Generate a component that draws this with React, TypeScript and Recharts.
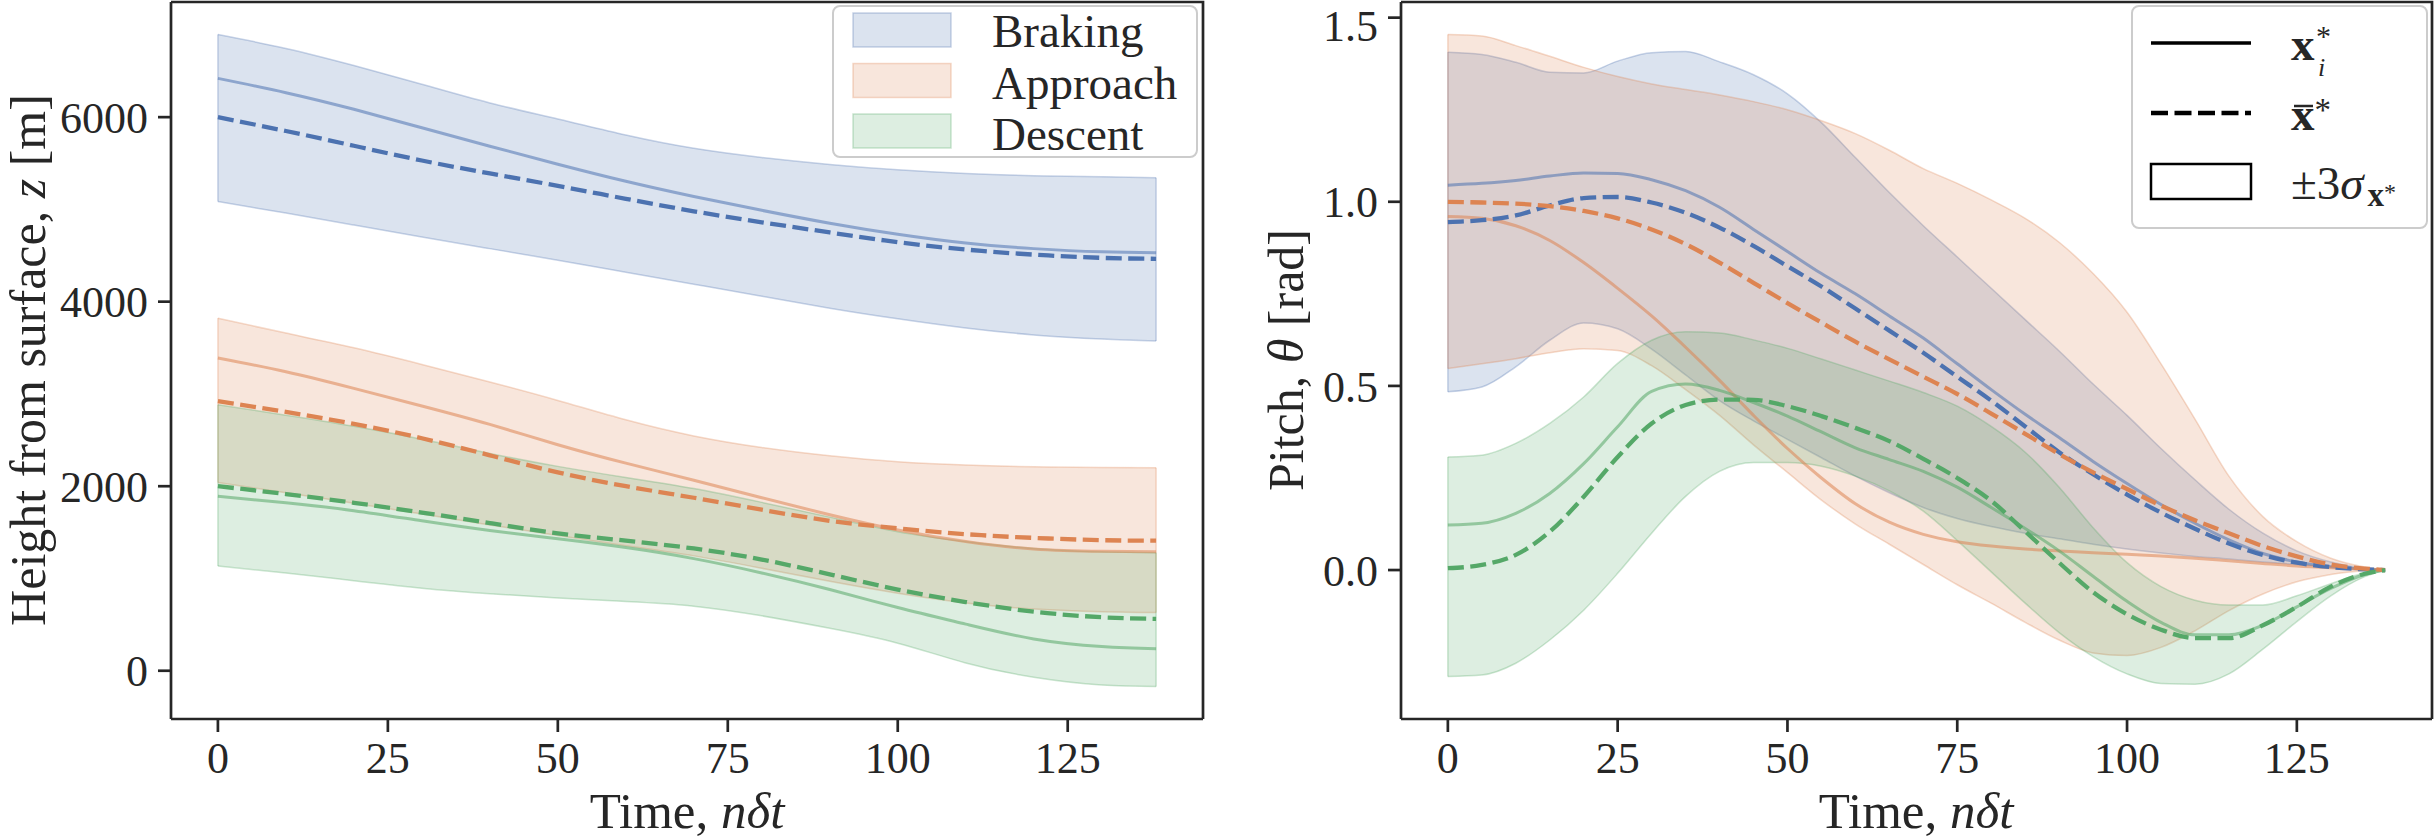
import React from 'react';
import { ComposedChart, Area, Line, XAxis, YAxis, ReferenceLine } from 'recharts';

const FONT = '"Liberation Serif", "Times New Roman", serif';
const INK = '#262626';
const BLUE = '#4c72b0';
const ORANGE = '#dd8452';
const GREEN = '#55a868';

const timeTicks = [0, 25, 50, 75, 100, 125];
const heightTicks = [0, 2000, 4000, 6000];
const pitchTicks = [0, 0.5, 1.0, 1.5];

// left panel: height from surface, every 10 steps
const heightSteps = [0, 10, 20, 30, 40, 50, 60, 70, 80, 90, 100, 110, 120, 130, 138];
const brakingHeightUpper = [6895, 6745, 6560, 6357, 6154, 5980, 5806, 5662, 5563, 5488, 5430, 5390, 5366, 5355, 5343];
const brakingHeightLower = [5085, 4960, 4830, 4700, 4575, 4450, 4320, 4190, 4060, 3930, 3815, 3715, 3640, 3595, 3575];
const brakingHeightSample = [6420, 6265, 6085, 5885, 5685, 5490, 5305, 5140, 4990, 4850, 4730, 4635, 4575, 4540, 4530];
const brakingHeightMean = [6000, 5850, 5690, 5530, 5390, 5255, 5115, 4980, 4860, 4750, 4645, 4565, 4510, 4475, 4465];
const approachHeightUpper = [3820, 3660, 3500, 3320, 3130, 2930, 2720, 2545, 2420, 2330, 2265, 2230, 2210, 2202, 2200];
const approachHeightLower = [2040, 1930, 1815, 1700, 1580, 1465, 1355, 1245, 1110, 970, 840, 735, 670, 640, 630];
const approachHeightSample = [3390, 3240, 3060, 2870, 2670, 2450, 2250, 2065, 1875, 1690, 1525, 1400, 1320, 1295, 1290];
const approachHeightMean = [2922, 2805, 2675, 2520, 2335, 2150, 2000, 1875, 1745, 1625, 1543, 1480, 1440, 1415, 1410];
const descentHeightUpper = [2883, 2770, 2650, 2510, 2355, 2215, 2095, 1975, 1825, 1665, 1506, 1400, 1325, 1290, 1280];
const descentHeightLower = [1135, 1060, 975, 895, 835, 788, 750, 700, 595, 460, 299, 85, -70, -155, -170];
const descentHeightSample = [1892, 1820, 1735, 1625, 1520, 1430, 1335, 1215, 1060, 880, 685, 505, 345, 262, 238];
const descentHeightMean = [2000, 1915, 1820, 1715, 1600, 1490, 1410, 1325, 1205, 1045, 880, 745, 640, 580, 562];

// right panel: pitch, every 5 steps
const pitchSteps = [0, 5, 10, 15, 20, 25, 30, 35, 40, 45, 50, 55, 60, 65, 70, 75, 80, 85, 90, 95, 100, 105, 110, 115, 120, 125, 130, 135, 138];
const brakingPitchUpper = [1.406, 1.4, 1.379, 1.352, 1.35, 1.382, 1.405, 1.408, 1.38, 1.345, 1.293, 1.215, 1.12, 1.025, 0.935, 0.85, 0.765, 0.68, 0.595, 0.505, 0.42, 0.33, 0.245, 0.165, 0.1, 0.052, 0.022, 0.005, 0];
const brakingPitchLower = [0.484, 0.497, 0.552, 0.624, 0.671, 0.655, 0.6, 0.53, 0.46, 0.405, 0.355, 0.305, 0.255, 0.21, 0.17, 0.14, 0.118, 0.1, 0.085, 0.07, 0.057, 0.046, 0.037, 0.03, 0.022, 0.015, 0.009, 0.003, 0];
const brakingPitchSample = [1.045, 1.05, 1.058, 1.07, 1.078, 1.077, 1.06, 1.03, 0.985, 0.925, 0.865, 0.805, 0.75, 0.69, 0.63, 0.56, 0.49, 0.423, 0.36, 0.295, 0.235, 0.178, 0.127, 0.082, 0.045, 0.022, 0.009, 0.002, 0];
const brakingPitchMean = [0.945, 0.95, 0.963, 0.99, 1.01, 1.013, 0.998, 0.97, 0.93, 0.88, 0.825, 0.77, 0.71, 0.65, 0.59, 0.525, 0.46, 0.39, 0.32, 0.26, 0.205, 0.156, 0.112, 0.072, 0.041, 0.02, 0.008, 0.002, 0];
const approachPitchUpper = [1.454, 1.45, 1.424, 1.395, 1.365, 1.34, 1.32, 1.305, 1.29, 1.272, 1.25, 1.22, 1.185, 1.14, 1.09, 1.05, 1.005, 0.955, 0.89, 0.805, 0.7, 0.56, 0.41, 0.255, 0.145, 0.077, 0.032, 0.008, 0];
const approachPitchLower = [0.547, 0.56, 0.574, 0.59, 0.601, 0.596, 0.555, 0.49, 0.42, 0.34, 0.265, 0.19, 0.125, 0.07, 0.015, -0.04, -0.09, -0.142, -0.19, -0.225, -0.232, -0.21, -0.165, -0.11, -0.065, -0.032, -0.012, -0.002, 0];
const approachPitchSample = [0.96, 0.955, 0.935, 0.895, 0.835, 0.765, 0.69, 0.605, 0.515, 0.42, 0.33, 0.25, 0.18, 0.13, 0.097, 0.077, 0.065, 0.057, 0.052, 0.047, 0.043, 0.038, 0.032, 0.025, 0.018, 0.011, 0.006, 0.002, 0];
const approachPitchMean = [1.0, 0.998, 0.995, 0.988, 0.975, 0.955, 0.925, 0.885, 0.835, 0.78, 0.725, 0.672, 0.62, 0.572, 0.525, 0.478, 0.425, 0.37, 0.315, 0.265, 0.22, 0.175, 0.135, 0.1, 0.065, 0.037, 0.015, 0.004, 0];
const descentPitchUpper = [0.307, 0.312, 0.344, 0.398, 0.47, 0.561, 0.624, 0.647, 0.644, 0.625, 0.602, 0.573, 0.543, 0.513, 0.482, 0.445, 0.39, 0.32, 0.225, 0.115, 0.02, -0.045, -0.082, -0.095, -0.095, -0.07, -0.037, -0.008, 0];
const descentPitchLower = [-0.289, -0.285, -0.253, -0.19, -0.109, -0.009, 0.1, 0.2, 0.268, 0.292, 0.292, 0.282, 0.255, 0.215, 0.16, 0.08, -0.005, -0.09, -0.17, -0.235, -0.282, -0.308, -0.31, -0.282, -0.215, -0.14, -0.07, -0.018, 0];
const descentPitchSample = [0.122, 0.127, 0.154, 0.208, 0.289, 0.389, 0.485, 0.505, 0.488, 0.455, 0.418, 0.375, 0.332, 0.3, 0.268, 0.225, 0.17, 0.113, 0.052, -0.017, -0.085, -0.142, -0.176, -0.176, -0.15, -0.1, -0.05, -0.012, 0];
const descentPitchMean = [0.005, 0.014, 0.041, 0.104, 0.199, 0.307, 0.398, 0.448, 0.463, 0.462, 0.445, 0.418, 0.386, 0.35, 0.302, 0.25, 0.188, 0.105, 0.02, -0.06, -0.12, -0.162, -0.185, -0.185, -0.15, -0.1, -0.045, -0.01, 0];

const phases = [
  { key: 'braking', label: 'Braking', color: BLUE },
  { key: 'approach', label: 'Approach', color: ORANGE },
  { key: 'descent', label: 'Descent', color: GREEN },
];

const heightRows = heightSteps.map((n, i) => ({
  n,
  brakingBand: [brakingHeightLower[i], brakingHeightUpper[i]],
  brakingSample: brakingHeightSample[i],
  brakingMean: brakingHeightMean[i],
  approachBand: [approachHeightLower[i], approachHeightUpper[i]],
  approachSample: approachHeightSample[i],
  approachMean: approachHeightMean[i],
  descentBand: [descentHeightLower[i], descentHeightUpper[i]],
  descentSample: descentHeightSample[i],
  descentMean: descentHeightMean[i],
}));

const pitchRows = pitchSteps.map((n, i) => ({
  n,
  brakingBand: [brakingPitchLower[i], brakingPitchUpper[i]],
  brakingSample: brakingPitchSample[i],
  brakingMean: brakingPitchMean[i],
  approachBand: [approachPitchLower[i], approachPitchUpper[i]],
  approachSample: approachPitchSample[i],
  approachMean: approachPitchMean[i],
  descentBand: [descentPitchLower[i], descentPitchUpper[i]],
  descentSample: descentPitchSample[i],
  descentMean: descentPitchMean[i],
}));

const axisLine = { stroke: INK, strokeWidth: 2.7 };
const tickFont = { fill: INK, fontSize: 44, fontFamily: FONT };
const DASH = '16 6.5';

// vertical edges at both ends of a band, like a filled polygon outline
function bandEdges(rows: any[], key: string, color: string) {
  const first = rows[0];
  const last = rows[rows.length - 1];
  return [first, last].map((r, i) => (
    <ReferenceLine
      key={`${key}-edge-${i}`}
      segment={[{ x: r.n, y: r[key][0] }, { x: r.n, y: r[key][1] }]}
      stroke={color}
      strokeOpacity={0.3}
      strokeWidth={1.5}
      ifOverflow="visible"
    />
  ));
}

function Panel({ rows, width, yAxisWidth, marginRight, yDomain, yTicks, yFormat, curve }: any) {
  return (
    <ComposedChart width={width} height={840} data={rows} margin={{ top: 2, right: marginRight, bottom: 0, left: 0 }}>
      <XAxis
        dataKey="n"
        type="number"
        domain={[-6.9, 144.9]}
        ticks={timeTicks}
        allowDataOverflow
        height={121}
        tickSize={13}
        tickMargin={10}
        axisLine={axisLine}
        tickLine={axisLine}
        tick={tickFont}
      />
      <YAxis
        type="number"
        domain={yDomain}
        ticks={yTicks}
        allowDataOverflow
        width={yAxisWidth}
        tickSize={13}
        tickMargin={10}
        axisLine={axisLine}
        tickLine={axisLine}
        tick={tickFont}
        tickFormatter={yFormat}
      />
      {phases.map((p) => (
        <Area
          key={`${p.key}-band`}
          dataKey={`${p.key}Band`}
          type={curve}
          fill={p.color}
          fillOpacity={0.2}
          stroke={p.color}
          strokeOpacity={0.3}
          strokeWidth={1.5}
          dot={false}
          activeDot={false}
          isAnimationActive={false}
        />
      ))}
      {phases.map((p) => bandEdges(rows, `${p.key}Band`, p.color))}
      {phases.map((p) => (
        <Line
          key={`${p.key}-sample`}
          dataKey={`${p.key}Sample`}
          type={curve}
          stroke={p.color}
          strokeOpacity={0.55}
          strokeWidth={3}
          dot={false}
          activeDot={false}
          isAnimationActive={false}
        />
      ))}
      {phases.map((p) => (
        <Line
          key={`${p.key}-mean`}
          dataKey={`${p.key}Mean`}
          type={curve}
          stroke={p.color}
          strokeWidth={4.3}
          strokeDasharray={DASH}
          dot={false}
          activeDot={false}
          isAnimationActive={false}
        />
      ))}
    </ComposedChart>
  );
}

function Overlay() {
  const text = { fontFamily: FONT, fill: INK };
  return (
    <svg width={2434} height={840} style={{ position: 'absolute', left: 0, top: 0, pointerEvents: 'none' }}>
      {/* top and right edges of both axes boxes */}
      <polyline points="171,2 1203,2 1203,719" fill="none" stroke={INK} strokeWidth={2.7} />
      <polyline points="1401,2 2432,2 2432,719" fill="none" stroke={INK} strokeWidth={2.7} />

      {/* axis titles */}
      <text x={687} y={828} textAnchor="middle" fontSize={51} {...text}>
        Time, <tspan fontStyle="italic">nδt</tspan>
      </text>
      <text x={1916} y={828} textAnchor="middle" fontSize={51} {...text}>
        Time, <tspan fontStyle="italic">nδt</tspan>
      </text>
      <text transform="translate(45 360) rotate(-90)" textAnchor="middle" fontSize={50} {...text}>
        Height from surface, <tspan fontStyle="italic">z</tspan> [m]
      </text>
      <text transform="translate(1303 360) rotate(-90)" textAnchor="middle" fontSize={50} {...text}>
        Pitch, <tspan fontStyle="italic">θ</tspan> [rad]
      </text>

      {/* phase legend */}
      <rect x={833} y={6} width={364} height={151} rx={7} fill="#fff" fillOpacity={0.8} stroke="#cccccc" strokeWidth={2} />
      {phases.map((p, i) => (
        <g key={p.key}>
          <rect x={853} y={13 + i * 50.5} width={98} height={34} fill={p.color} fillOpacity={0.2} stroke={p.color} strokeOpacity={0.3} strokeWidth={1.5} />
          <text x={992} y={47 + i * 51.5} fontSize={47} {...text}>{p.label}</text>
        </g>
      ))}

      {/* line style legend */}
      <rect x={2132} y={6} width={295} height={222} rx={7} fill="#fff" fillOpacity={0.8} stroke="#cccccc" strokeWidth={2} />
      <line x1={2151} x2={2251} y1={43} y2={43} stroke="#000" strokeWidth={3.3} />
      <line x1={2151} x2={2251} y1={113} y2={113} stroke="#000" strokeWidth={4.3} strokeDasharray="17 6.5" />
      <rect x={2151} y={164} width={100} height={35} fill="none" stroke="#000" strokeWidth={2.5} />
      <text x={2291} y={60} fontSize={47} fontWeight="bold" {...text}>x</text>
      <text x={2316} y={46} fontSize={30} {...text}>*</text>
      <text x={2318} y={76} fontSize={26} fontStyle="italic" {...text}>i</text>
      <line x1={2294} x2={2313} y1={106} y2={106} stroke={INK} strokeWidth={2.5} />
      <text x={2291} y={130} fontSize={47} {...text}>
        <tspan fontWeight="bold">x</tspan>
        <tspan fontSize={33} dy={-9}>*</tspan>
      </text>
      <text x={2291} y={199} fontSize={47} {...text}>
        ±3<tspan fontStyle="italic">σ</tspan>
        <tspan fontSize={33} fontWeight="bold" dx={4} dy={7}>x</tspan>
        <tspan fontSize={24} dy={-6}>*</tspan>
      </text>
    </svg>
  );
}

export default function App() {
  return (
    <div style={{ position: 'absolute', left: 0, top: 0, width: 2434, height: 840, background: '#fff', overflow: 'hidden' }}>
      <div style={{ position: 'absolute', left: 0, top: 0 }}>
        <Panel
          rows={heightRows}
          width={1215}
          yAxisWidth={171}
          marginRight={12}
          yDomain={[-523, 7248]}
          yTicks={heightTicks}
          yFormat={(v: number) => String(v)}
          curve="natural"
        />
      </div>
      <div style={{ position: 'absolute', left: 1217, top: 0 }}>
        <Panel
          rows={pitchRows}
          width={1217}
          yAxisWidth={184}
          marginRight={2}
          yDomain={[-0.4045, 1.5425]}
          yTicks={pitchTicks}
          yFormat={(v: number) => v.toFixed(1)}
          curve="monotone"
        />
      </div>
      <Overlay />
    </div>
  );
}
